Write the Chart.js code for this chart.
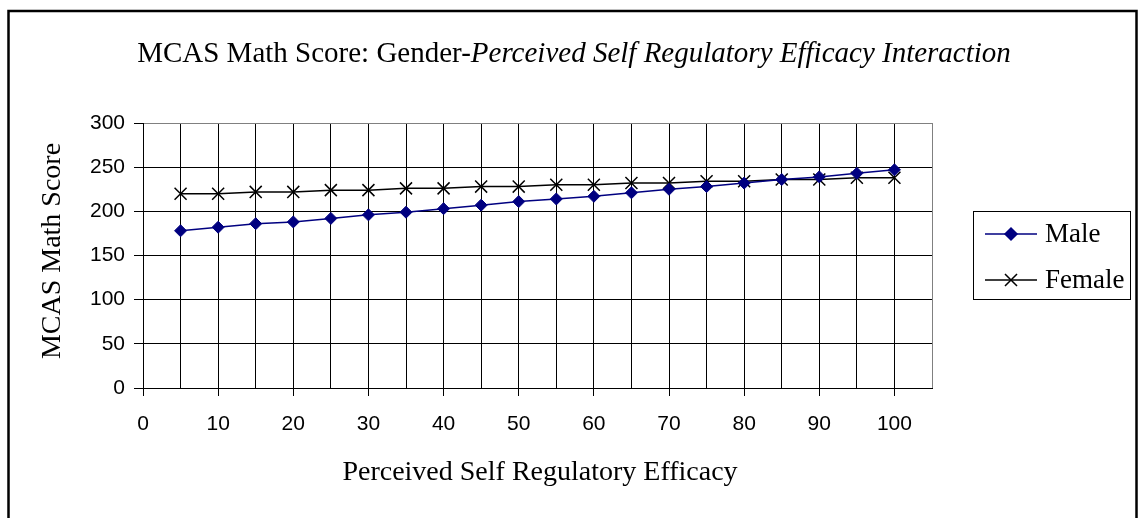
<!DOCTYPE html>
<html>
<head>
<meta charset="utf-8">
<script src="https://cdn.jsdelivr.net/npm/chart.js@4/dist/chart.umd.min.js"></script>
<style>
  html, body { margin: 0; padding: 0; background: #fff; }
  canvas { display: block; }
</style>
</head>
<body>
<canvas id="chart" width="1139" height="518"></canvas>
<script>
// ================= DATA =================
const efficacy = [5, 10, 15, 20, 25, 30, 35, 40, 45, 50, 55, 60, 65, 70, 75, 80, 85, 90, 95, 100];
const maleScores = [178, 182, 186, 188, 192, 196, 199, 203, 207, 211, 214, 217, 221, 225, 228, 232, 236, 239, 243, 247];
const femaleScores = [220, 220, 222, 222, 224, 224, 226, 226, 228, 228, 230, 230, 232, 232, 234, 234, 236, 236, 238, 238];
const xTickLabels = [0, 10, 20, 30, 40, 50, 60, 70, 80, 90, 100];
const yTickLabels = [0, 50, 100, 150, 200, 250, 300];

const titlePlain = "MCAS Math Score: Gender-";
const titleItalic = "Perceived Self Regulatory Efficacy Interaction";
const xTitle = "Perceived Self Regulatory Efficacy";
const yTitle = "MCAS Math Score";

const SERIF = "'Liberation Serif', 'Times New Roman', serif";
const SANS = "'Liberation Sans', Arial, sans-serif";


// ================= FRAME, TITLES, LEGEND =================
const decorPlugin = {
  id: "decor",
  afterDraw(chart) {
    const ctx = chart.ctx;
    const area = chart.chartArea;
    ctx.save();

    // outer frame
    ctx.strokeStyle = "#000";
    ctx.lineWidth = 2.5;
    ctx.strokeRect(8.5, 11, 1128, 520);

    // title (plain + italic part)
    ctx.fillStyle = "#000";
    ctx.textBaseline = "alphabetic";
    ctx.font = "29px " + SERIF;
    const w1 = ctx.measureText(titlePlain).width;
    ctx.font = "italic 29px " + SERIF;
    const w2 = ctx.measureText(titleItalic).width;
    const tx = 574 - (w1 + w2) / 2;
    ctx.textAlign = "left";
    ctx.font = "29px " + SERIF;
    ctx.fillText(titlePlain, tx, 62);
    ctx.font = "italic 29px " + SERIF;
    ctx.fillText(titleItalic, tx + w1, 62);

    // axis titles
    ctx.font = "28px " + SERIF;
    ctx.textAlign = "center";
    ctx.textBaseline = "middle";
    ctx.fillText(xTitle, 540, 473);
    ctx.save();
    ctx.translate(53, 251);
    ctx.rotate(-Math.PI / 2);
    ctx.fillText(yTitle, 0, 0);
    ctx.restore();

    // legend box
    ctx.strokeStyle = "#000";
    ctx.lineWidth = 1;
    ctx.strokeRect(973.5, 211.5, 157, 88);

    chart.data.datasets.forEach((ds, i) => {
      const y = 234 + i * 46;
      ctx.strokeStyle = ds.borderColor;
      ctx.fillStyle = ds.pointBackgroundColor || ds.borderColor;
      ctx.lineWidth = 1.5;
      ctx.beginPath();
      ctx.moveTo(985, y);
      ctx.lineTo(1037, y);
      ctx.stroke();
      Chart.helpers.drawPoint(ctx, {
        pointStyle: ds.pointStyle,
        radius: ds.pointRadius,
        borderWidth: ds.pointBorderWidth
      }, 1011, y);
      ctx.fillStyle = "#000";
      ctx.font = "27px " + SERIF;
      ctx.textAlign = "left";
      ctx.textBaseline = "middle";
      ctx.fillText(ds.label, 1045, y + 1);
    });

    ctx.restore();
  }
};


// ================= CHART =================
const toPoints = ys => efficacy.map((x, i) => ({ x: x, y: ys[i] }));

new Chart(document.getElementById("chart"), {
  type: "line",
  data: {
    datasets: [
      {
        label: "Male",
        data: toPoints(maleScores),
        borderColor: "#000080",
        backgroundColor: "#000080",
        borderWidth: 1.5,
        pointStyle: "rectRot",
        pointRadius: 6,
        pointBorderWidth: 1,
        pointBackgroundColor: "#000080",
        pointBorderColor: "#000080",
        tension: 0
      },
      {
        label: "Female",
        data: toPoints(femaleScores),
        borderColor: "#000",
        backgroundColor: "#000",
        borderWidth: 1.5,
        pointStyle: "crossRot",
        pointRadius: 8.5,
        pointBorderWidth: 1.5,
        pointBorderColor: "#000",
        tension: 0
      }
    ]
  },
  options: {
    responsive: false,
    animation: false,
    layout: {
      padding: { left: 0, top: 123, right: 207, bottom: 0 }
    },
    plugins: {
      legend: { display: false },
      title: { display: false },
      tooltip: { enabled: false }
    },
    scales: {
      x: {
        type: "linear",
        min: 0,
        max: 105,
        afterFit: s => { s.height = 130; },
        afterBuildTicks: s => {
          s.ticks = [];
          for (let v = 0; v <= 105; v += 5) s.ticks.push({ value: v });
        },
        ticks: {
          autoSkip: false,
          maxRotation: 0,
          padding: 16,
          color: "#000",
          font: { family: SANS, size: 21 },
          callback: v => (xTickLabels.includes(v) ? String(v) : "")
        },
        grid: {
          color: ctx => (ctx.tick && ctx.tick.value === 105 ? "#808080" : "#000"),
          tickColor: ctx => (ctx.tick && xTickLabels.includes(ctx.tick.value) ? "#000" : "rgba(0,0,0,0)"),
          tickLength: 8,
          lineWidth: 1
        },
        border: { display: true, color: "#000", width: 1 }
      },
      y: {
        min: 0,
        max: 300,
        afterFit: s => { s.width = 143; },
        afterBuildTicks: s => {
          s.ticks = yTickLabels.map(v => ({ value: v }));
        },
        ticks: {
          padding: 9,
          color: "#000",
          font: { family: SANS, size: 21 }
        },
        grid: {
          color: ctx => (ctx.tick && ctx.tick.value === 300 ? "#808080" : "#000"),
          tickColor: "#000",
          tickLength: 9,
          lineWidth: 1
        },
        border: { display: true, color: "#000", width: 1 }
      }
    }
  },
  plugins: [decorPlugin]
});
</script>
</body>
</html>
